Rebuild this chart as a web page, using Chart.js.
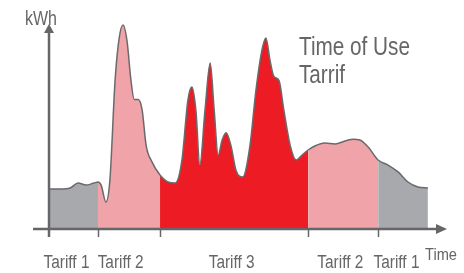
<!DOCTYPE html>
<html><head><meta charset="utf-8">
<script src="https://cdn.jsdelivr.net/npm/chart.js@4.4.1/dist/chart.umd.min.js"></script>
<style>html,body{margin:0;padding:0;background:#fff}#wrap{width:464px;height:273px}</style>
</head><body><div id="wrap"><canvas id="c"></canvas></div>
<script>
// Time axis (arbitrary units) and consumption (kWh, relative)
const timeValues = [0,2.8,5.3,7.3,9.3,11.3,12.3,
  13.1,14.3,15.3,16.6,17.6,18.6,19.6,20.6,21.4,22.4,23.4,24.4,25.9,27.9,
  29.9,31.7,33.4,34.9,35.9,36.9,37.9,39.2,40.5,41.5,42.5,43.5,44.5,45.7,47.0,48.7,50.5,52.0,53.5,54.5,55.5,56.5,57.8,59.0,60.6,62.1,63.6,65.1,
  66.8,69.3,71.9,74.4,76.4,78.1,80.2,82.7,
  85.2,87.7,90.2,92.7,95.2];
const kwhValues = [19.1,19.1,19.6,22,21,22,22.5,
  21,12.9,23.4,71,91,97.6,90,71,62,62,57,40,32,25.8,
  22.5,22,33,61.7,68,57,30.6,57,79.4,57,35.4,42.6,46,40,28,24.9,40,66.5,85.6,91.4,81,73,71,57,40,33,35.4,37.8,
  39.7,41.1,40.7,42.1,43,42.6,39.2,33,
  30.6,27.3,22.5,20.1,19.6];
// Tariff periods
const tariffBounds = [0,12.3,27.9,65.1,82.7,95.2];
const tariffNames = ['Tariff 1','Tariff 2','Tariff 3','Tariff 2','Tariff 1'];
const tariffLabelPos = [4.4,18.0,45.9,73.2,87.3];
const tariffColors = ['#a7a9ac','#f0a3a8','#ed1c24','#f0a3a8','#a7a9ac'];

const AX = '#666668';
const FONT = "'Liberation Sans',Arial,sans-serif";

function tariffIndex(v){
  for(let i=0;i<tariffNames.length;i++){ if(v < tariffBounds[i+1]-1e-6) return i; }
  return tariffNames.length-1;
}

const decor = {
  id:'decor',
  afterDatasetsDraw(chart){
    const {ctx, scales:{x,y}, chartArea:ca} = chart;
    const x0 = x.getPixelForValue(0), y0 = y.getPixelForValue(0);
    ctx.save();
    ctx.strokeStyle = AX; ctx.fillStyle = AX; ctx.lineWidth = 2.5;
    // y axis
    ctx.beginPath(); ctx.moveTo(x0, y0+8); ctx.lineTo(x0, ca.top+10); ctx.stroke();
    ctx.beginPath(); ctx.moveTo(x0, ca.top+4); ctx.lineTo(x0-5, ca.top+13); ctx.lineTo(x0+5, ca.top+13); ctx.closePath(); ctx.fill();
    // x axis
    ctx.beginPath(); ctx.moveTo(x0-16, y0); ctx.lineTo(ca.right-6, y0); ctx.stroke();
    ctx.beginPath(); ctx.moveTo(ca.right, y0); ctx.lineTo(ca.right-11, y0-5); ctx.lineTo(ca.right-11, y0+5); ctx.closePath(); ctx.fill();
    // tick marks at tariff boundaries
    ctx.lineWidth = 1.5;
    for (let i=1;i<tariffBounds.length-1;i++){
      const px = Math.round(x.getPixelForValue(tariffBounds[i]))+0.5;
      ctx.beginPath(); ctx.moveTo(px, y0); ctx.lineTo(px, y0+8); ctx.stroke();
    }
    // tariff labels (condensed via maxWidth)
    ctx.fillStyle = '#666668';
    ctx.textAlign = 'center'; ctx.textBaseline = 'alphabetic';
    ctx.font = '18px ' + FONT;
    tariffNames.forEach((n,i)=>{
      ctx.fillText(n, x.getPixelForValue(tariffLabelPos[i]), 268, 46);
    });
    ctx.font = '20px ' + FONT;
    ctx.fillText('kWh', x0-8, 25, 32);
    ctx.font = '17px ' + FONT;
    ctx.fillText('Time', ca.right-6, 260, 32);
    ctx.textAlign = 'left';
    ctx.font = '25px ' + FONT;
    ctx.fillText('Time of Use', 299, 55, 111);
    ctx.fillText('Tarrif', 299, 83, 46);
    ctx.restore();
  }
};

new Chart(document.getElementById('c'), {
  type:'line',
  data:{
    labels: timeValues,
    datasets:[{
      data: timeValues.map((t,i)=>({x:t, y:kwhValues[i]})),
      borderColor:'#6a6a6c', borderWidth:1.5, pointRadius:0,
      fill:'origin', backgroundColor: tariffColors[0],
      cubicInterpolationMode:'monotone',
      segment:{ backgroundColor: c => tariffColors[tariffIndex(c.p0.parsed.x)] }
    }]
  },
  options:{
    responsive:true, maintainAspectRatio:false, animation:false,
    layout:{padding:{left:49, right:17, top:20, bottom:0}},
    plugins:{legend:{display:false}, tooltip:{enabled:false}},
    scales:{
      x:{type:'linear', min:0, max:100,
        grid:{display:false, drawTicks:false}, border:{display:false},
        afterFit: s => { s.height = 44; },
        ticks:{display:false}
      },
      y:{display:false, min:0, max:100}
    }
  },
  plugins:[decor]
});
</script></body></html>
